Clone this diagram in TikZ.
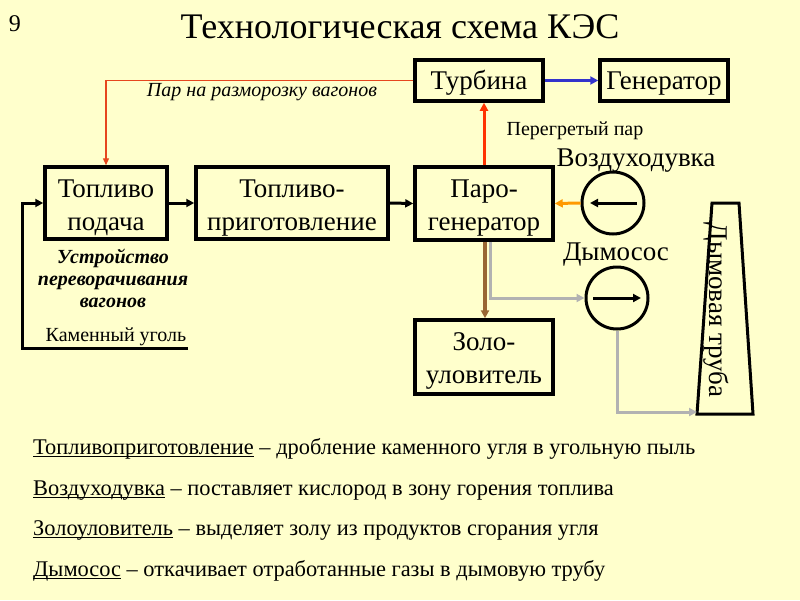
\documentclass[tikz,border=0pt]{standalone}
\usepackage{fontspec}
\setmainfont{Liberation Serif}
\usetikzlibrary{arrows.meta,calc}
\definecolor{bgyellow}{RGB}{255,255,204}
\definecolor{steamred}{RGB}{255,51,0}
\definecolor{thinred}{RGB}{230,70,30}
\definecolor{genblue}{RGB}{51,51,204}
\definecolor{airorange}{RGB}{255,153,0}
\definecolor{ashbrown}{RGB}{153,102,51}
\definecolor{gasgray}{RGB}{178,178,178}
\newcommand{\fsz}[1]{\fontsize{#1}{#1}\selectfont}
\newcommand{\fszz}[2]{\fontsize{#1}{#2}\selectfont}
\newcommand{\myul}[1]{\setbox0\hbox{#1}\rlap{\raisebox{-3pt}{\rule{\wd0}{1pt}}}\box0\relax}
\tikzset{
  blk/.style={draw=black, line width=3.5pt, inner sep=0pt},
  blktxt/.style={inner sep=0pt, align=center, font=\fszz{27}{33}},
  conn/.style={line width=3pt, -{Triangle[length=8pt,width=8pt]}},
  fan/.style={draw=black, line width=3pt, circle, minimum size=62pt, inner sep=0pt},
  lbl/.style={inner sep=0pt, align=center},
}
\begin{document}
\begin{tikzpicture}[x=1pt,y=-1pt]
\fill[bgyellow] (0,0) rectangle (800,600);
\useasboundingbox (0,0) rectangle (800,600);

\node[lbl, font=\fsz{24}] (num) at (15,24) {9};
\node[lbl, font=\fsz{36}] (title) at (400,27) {Технологическая схема КЭС};

% boxes
\node[blk, minimum width=128pt, minimum height=41pt] (turb) at (479,80.5) {};
\node[blk, minimum width=128pt, minimum height=41pt] (gen) at (664,80.5) {};
\node[blk, minimum width=122pt, minimum height=72pt] (feed) at (106,203) {};
\node[blk, minimum width=192pt, minimum height=72pt] (prep) at (292,203) {};
\node[blk, minimum width=138pt, minimum height=73pt] (pg) at (484,203.5) {};
\node[blk, minimum width=138pt, minimum height=74pt] (ash) at (484,357) {};

\node[blktxt] (turbtxt) at ([yshift=-2pt]turb.center) {Турбина};
\node[blktxt] (gentxt) at ([yshift=-3pt]gen.center) {Генератор};
\node[blktxt] (feedtxt) at ([yshift=-5pt]feed.center) {Топливо\\подача};
\node[blktxt] (preptxt) at ([yshift=-5pt]prep.center) {Топливо-\\приготовление};
\node[blktxt] (pgtxt) at ([yshift=-5pt]pg.center) {Паро-\\генератор};
\node[blktxt] (ashtxt) at ([yshift=-4pt]ash.center) {Золо-\\уловитель};

% fans
\node[fan] (blow) at (613,203) {};
\node[fan] (smoke) at (617,298) {};
\coordinate (bA) at (637,203);
\coordinate (bB) at (590,203);
\coordinate (sA) at (593,298);
\coordinate (sB) at (641,298);
\draw[conn] (bA) -- (bB);
\draw[conn] (sA) -- (sB);
\node[lbl, font=\fsz{27}] (blowlbl) at (636,161) {Воздуходувка};
\node[lbl, font=\fsz{27}] (smokelbl) at (616,255) {Дымосос};

% chimney
\coordinate (c1) at (712,203);
\coordinate (c2) at (739,203);
\coordinate (c3) at (753,414);
\coordinate (c4) at (697,414);
\draw[line width=3pt, line join=miter] (c1) -- (c2) -- (c3) -- (c4) -- cycle;
\node[lbl, font=\fsz{27}, rotate=-90] (chimlbl) at (716,310) {Дымовая труба};
\coordinate (chin) at (697,412);

% connectors
\draw[conn, genblue] (turb.east) -- (gen.west);
\draw[conn, steamred] (pg.north) -- (pg.north |- turb.south);
\draw[thinred, line width=1.3pt, -{Triangle[length=7pt,width=6pt]}] (turb.west) -| (feed.north);
\draw[conn] (feed.east) -- (prep.west);
\draw[conn] (prep.east) -- (pg.west);
\draw[conn, airorange] (blow.west) -- (pg.east);
\draw[conn, ashbrown, line width=3.5pt] ([xshift=1pt]pg.south) -- ([xshift=1pt]ash.north);
\draw[conn, gasgray] ([xshift=6pt]pg.south) |- (smoke.west);
\draw[conn, gasgray] (smoke.south) |- (chin);

\coordinate (coal) at (188,348);
\draw[conn] (coal) -- (22,348) |- (feed.west);
\node[lbl, font=\fsz{20}] (coallbl) at (116,337) {Каменный уголь};

\node[lbl, font=\itshape\fsz{20}] (thaw) at (262,92) {Пар на разморозку вагонов};
\node[lbl, font=\fsz{20}] (sup) at (575,131) {Перегретый пар};
\node[lbl, font=\bfseries\itshape\fszz{20}{22}] (dev) at (113,278) {Устройство\\переворачивания\\вагонов};

% bottom text
\node[lbl, anchor=base west, font=\fsz{22.4}] (t1) at (33,454) {\myul{Топливоприготовление} – дробление каменного угля в угольную пыль};
\node[lbl, anchor=base west, font=\fsz{22.4}] (t2) at (33,495) {\myul{Воздуходувка} – поставляет кислород в зону горения топлива};
\node[lbl, anchor=base west, font=\fsz{22.4}] (t3) at (33,535) {\myul{Золоуловитель} – выделяет золу из продуктов сгорания угля};
\node[lbl, anchor=base west, font=\fsz{22.4}] (t4) at (33,576) {\myul{Дымосос} – откачивает отработанные газы в дымовую трубу};
\end{tikzpicture}
\end{document}
